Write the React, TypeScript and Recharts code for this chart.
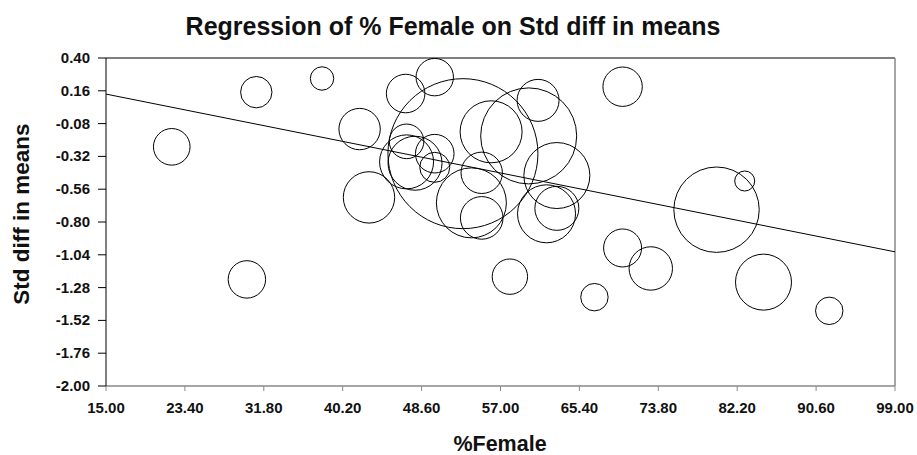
import React from 'react';
import { ScatterChart, Scatter, XAxis, YAxis, ZAxis, ReferenceLine } from 'recharts';

// % female in each study
const pctFemale = [
  22.0, 31.0, 38.0, 42.0, 43.0, 46.9, 50.0, 47.0, 47.0, 47.9, 50.0, 50.0, 53.0, 56.0, 60.0, 61.0,
  63.0, 55.0, 53.9, 55.0, 61.9, 63.0, 70.0, 80.0, 83.0, 70.0, 58.0, 67.0, 73.0, 85.0, 92.0, 30.0,
];

// standardized difference in means
const stdDiff = [
  -0.25, 0.15, 0.25, -0.12, -0.62, 0.14, 0.26, -0.21, -0.36, -0.37, -0.3, -0.4, -0.3, -0.14, -0.17, 0.09,
  -0.46, -0.44, -0.66, -0.77, -0.74, -0.7, 0.19, -0.71, -0.5, -0.99, -1.2, -1.35, -1.14, -1.24, -1.45, -1.22,
];

// relative study weight (bubble area)
const weight = [
  3.35, 2.46, 1.37, 4.28, 6.6, 3.72, 3.5, 2.99, 7.29, 7.29, 3.72, 2.25, 56.25, 9.61, 23.04, 4.41,
  10.89, 4.28, 12.25, 4.54, 8.41, 4.84, 3.88, 18.23, 1.0, 3.61, 3.13, 1.88, 4.71, 7.84, 1.88, 3.5,
];

const xTicks = [15, 23.4, 31.8, 40.2, 48.6, 57, 65.4, 73.8, 82.2, 90.6, 99];
const yTicks = [-2, -1.76, -1.52, -1.28, -1.04, -0.8, -0.56, -0.32, -0.08, 0.16, 0.4];

// fitted meta-regression line
const intercept = 0.342;
const slope = -0.01374;

const data = pctFemale.map((x, i) => ({ x, y: stdDiff[i], w: weight[i] }));

const font = '"Liberation Sans", Arial, sans-serif';

const XTick = ({ x, y, payload }: any) => (
  <text x={x} y={y + 13} textAnchor="middle" fontSize={15} fontWeight="bold" fill="#111" fontFamily={font}>
    {payload.value.toFixed(2)}
  </text>
);

const YTick = ({ x, y, payload }: any) => (
  <text x={x} y={y + 5} textAnchor="end" fontSize={15} fontWeight="bold" fill="#111" fontFamily={font}>
    {payload.value.toFixed(2)}
  </text>
);

export default function App() {
  return (
    <div style={{ position: 'absolute', left: 0, top: 0, width: 917, height: 455, fontFamily: font }}>
      <div
        style={{
          position: 'absolute', left: 453, top: 11, transform: 'translateX(-50%)',
          fontSize: 25, fontWeight: 'bold', whiteSpace: 'nowrap', color: '#111', lineHeight: '30px',
        }}
      >
        Regression of % Female on Std diff in means
      </div>
      <div
        style={{
          position: 'absolute', left: 22, top: 214, transform: 'translate(-50%, -50%) rotate(-90deg)',
          fontSize: 22.5, fontWeight: 'bold', whiteSpace: 'nowrap', color: '#111',
        }}
      >
        Std diff in means
      </div>
      <div
        style={{
          position: 'absolute', left: 500, top: 444, transform: 'translate(-50%, -50%)',
          fontSize: 21.5, fontWeight: 'bold', whiteSpace: 'nowrap', color: '#111',
        }}
      >
        %Female
      </div>
      <ScatterChart width={917} height={455} margin={{ top: 58, right: 22, bottom: 0, left: 0 }}>
        <XAxis
          type="number"
          dataKey="x"
          domain={[15, 99]}
          ticks={xTicks}
          interval={0}
          height={69}
          tick={<XTick />}
          tickSize={5}
          tickMargin={9}
          axisLine={{ stroke: '#888', strokeWidth: 1.5 }}
          tickLine={{ stroke: '#888' }}
        />
        <YAxis
          type="number"
          dataKey="y"
          domain={[-2, 0.4]}
          ticks={yTicks}
          interval={0}
          width={106}
          tick={<YTick />}
          tickSize={8}
          tickMargin={8}
          axisLine={{ stroke: '#000' }}
          tickLine={{ stroke: '#000' }}
        />
        <ZAxis type="number" dataKey="w" domain={[0, 100]} range={[0, 31416]} />
        <ReferenceLine y={0.4} stroke="#000" />
        <ReferenceLine x={99} stroke="#888" strokeWidth={1.5} />
        <ReferenceLine
          segment={[
            { x: 15, y: intercept + slope * 15 },
            { x: 99, y: intercept + slope * 99 },
          ]}
          stroke="#000"
          strokeWidth={1}
        />
        <Scatter
          data={data}
          fill="none"
          stroke="#000"
          strokeWidth={1}
          isAnimationActive={false}
        />
      </ScatterChart>
    </div>
  );
}
